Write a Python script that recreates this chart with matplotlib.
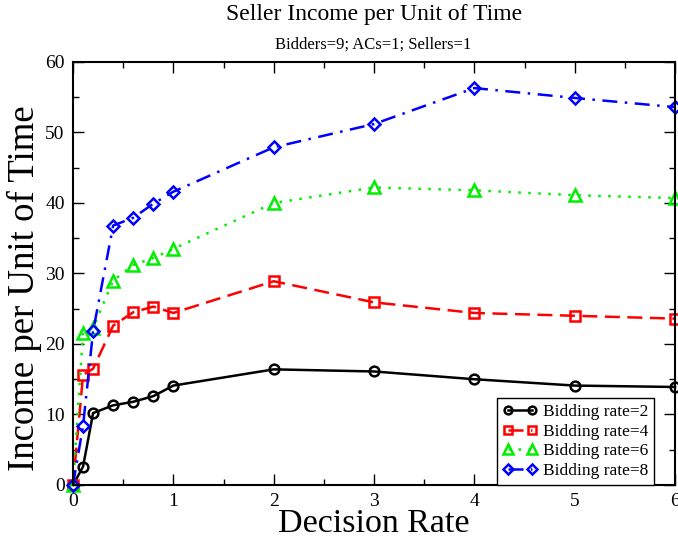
import matplotlib
matplotlib.use("Agg")
import matplotlib.pyplot as plt
from matplotlib.ticker import MultipleLocator

plt.rcParams['font.family'] = ['Liberation Serif', 'DejaVu Serif']

# decision rates and seller income for each bidding rate
rates = [0, 0.1, 0.2, 0.4, 0.6, 0.8, 1, 2, 3, 4, 5, 6]
rate2 = [0.0, 2.6, 10.2, 11.3, 11.8, 12.6, 14.1, 16.4, 16.1, 15.0, 14.1, 13.9]
rate4 = [0.0, 15.6, 16.5, 22.6, 24.5, 25.3, 24.4, 28.9, 25.9, 24.4, 24.0, 23.6]
rate6 = [0.0, 21.6, 22.3, 29.0, 31.2, 32.2, 33.5, 40.0, 42.2, 41.8, 41.1, 40.7]
rate8 = [0.0, 8.4, 21.8, 36.8, 37.9, 39.9, 41.6, 47.9, 51.2, 56.3, 54.9, 53.6]
labels = ["Bidding rate=2", "Bidding rate=4", "Bidding rate=6", "Bidding rate=8"]

fig = plt.figure(figsize=(6.78, 5.4), dpi=100)
ax = fig.add_axes([0.1077, 0.1019, 0.888, 0.7833])

lw = 1.8
ms = 7
mew = 1.8
ax.plot(rates, rate2, color='black', ls='-', lw=lw, marker='o', ms=ms,
        mfc='none', mew=mew, label=labels[0], clip_on=False)
ax.plot(rates, rate4, color='red', ls=(0, (6, 3)), lw=lw, marker='s', ms=ms,
        mfc='none', mew=mew, label=labels[1], clip_on=False)
ax.plot(rates, rate6, color='#00ee00', ls=(0, (1, 3)), lw=lw, marker='^', ms=ms + 2,
        mfc='none', mew=mew, label=labels[2], clip_on=False)
ax.plot(rates, rate8, color='blue', ls=(0, (6, 3, 1, 3)), lw=lw, marker='D', ms=ms - 1,
        mfc='none', mew=mew, label=labels[3], clip_on=False)

ax.set_xlim(0, 6)
ax.set_ylim(0, 60)
ax.xaxis.set_major_locator(MultipleLocator(1))
ax.xaxis.set_minor_locator(MultipleLocator(0.5))
ax.yaxis.set_major_locator(MultipleLocator(10))
ax.yaxis.set_minor_locator(MultipleLocator(5))
ax.tick_params(which='both', direction='in', top=True, right=True, labelsize=14, width=1)
ax.tick_params(which='major', length=8, pad=6)
ax.tick_params(which='minor', length=4)
for s in ax.spines.values():
    s.set_linewidth(1.5)

ax.set_xlabel("Decision Rate", fontsize=24.5, labelpad=-1)
ax.set_ylabel("Income per Unit of Time", fontsize=26.5)
ax.yaxis.set_label_coords(-0.052, 0.466)
fig.text(0.551, 0.974, "Seller Income per Unit of Time", ha='center', va='center', fontsize=17)
fig.text(0.551, 0.917, "Bidders=9; ACs=1; Sellers=1", ha='center', va='center', fontsize=12)

leg = ax.legend(loc='lower right', bbox_to_anchor=(0.965, 0.0), fontsize=12.5, numpoints=2,
                handlelength=2.0, handletextpad=0.3, labelspacing=0.2, borderpad=0.35,
                markerscale=0.8, fancybox=False, framealpha=1, borderaxespad=0)
leg.get_frame().set_edgecolor('black')
leg.get_frame().set_linewidth(1)

fig.savefig("out.png", dpi=100)
